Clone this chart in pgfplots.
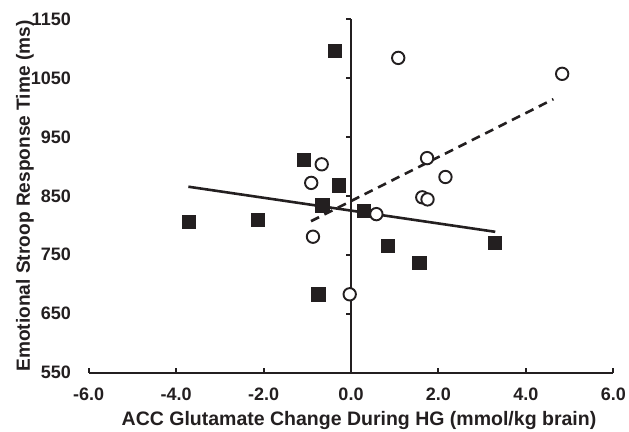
\documentclass[border=0pt]{standalone}
\usepackage{fontspec}
\setmainfont{Liberation Sans}
\usepackage{pgfplots}
\pgfplotsset{compat=1.18}
\definecolor{ink}{HTML}{231F20}
\begin{document}
\begin{tikzpicture}
\useasboundingbox (-88.7bp,-59.3bp) rectangle (540.3bp,372.7bp);
\begin{axis}[
    scale only axis,
    width=524.6bp, height=353.7bp,
    at={(0,0)}, anchor=south west,
    xmin=-6, xmax=6, ymin=550, ymax=1150,
    axis x line*=bottom, axis y line*=left,
    x axis line style={-, line width=2bp, color=ink},
    y axis line style={draw=none},
    xtick={-6,-4,-2,0,2,4,6},
    xticklabels={-6.0,-4.0,-2.0,0.0,2.0,4.0,6.0},
    ytick={550,650,750,850,950,1050,1150},
    yticklabels={550,650,750,850,950,1050,1150},
    xtick align=inside,
    major tick length=4.5bp,
    xtick style={line width=2bp, color=ink},
    ytick style={draw=none},
    tick label style={font=\fontsize{18bp}{20bp}\selectfont\bfseries, text=ink, inner sep=0pt},
    yticklabel style={anchor=east, xshift=-17.7bp},
    xticklabel style={anchor=north, yshift=-15.3bp},
    clip=false,
]
    % vertical axis drawn at x = 0
    \draw[line width=2bp, ink] (axis cs:0,550) -- (axis cs:0,1150);
    \pgfplotsinvokeforeach{650,750,850,950,1050,1150}{
        \draw[line width=2bp, ink] (axis cs:0,#1) -- ++(-5bp,0bp);
    }

    % trend lines
    \addplot[ink, line width=2.6bp] coordinates {(-3.72,865.5) (3.30,789)};
    \addplot[ink, line width=2.6bp, dash pattern=on 9bp off 6bp] coordinates {(-0.915,807) (4.63,1014)};

    % filled squares
    \addplot[only marks, mark=square*, mark size=6.6bp, mark options={fill=ink, draw=ink}] coordinates {
        (-0.37,1096) (-1.08,912) (-0.28,868) (-0.66,834) (0.29,825)
        (-3.71,806) (-2.13,809) (0.84,765) (1.56,737) (3.28,771) (-0.75,683)
    };

    % open circles
    \addplot[only marks, mark=*, mark size=6.2bp, mark options={fill=white, draw=ink, line width=1.9bp}] coordinates {
        (1.08,1084) (4.83,1057) (1.74,914) (2.16,882) (1.63,847.5) (1.75,844)
        (-0.67,903.5) (-0.91,872) (0.58,819) (-0.87,780.7) (-0.03,683)
    };
\end{axis}
\node[font=\fontsize{19.5bp}{22bp}\selectfont\bfseries, text=ink, anchor=base] at (270.3bp,-52.3bp) {ACC Glutamate Change During HG (mmol/kg brain)};
\node[rotate=90, font=\fontsize{19.1bp}{22bp}\selectfont\bfseries, text=ink, anchor=base] at (-58.7bp,176.7bp) {Emotional Stroop Response Time (ms)};
\end{tikzpicture}
\end{document}
